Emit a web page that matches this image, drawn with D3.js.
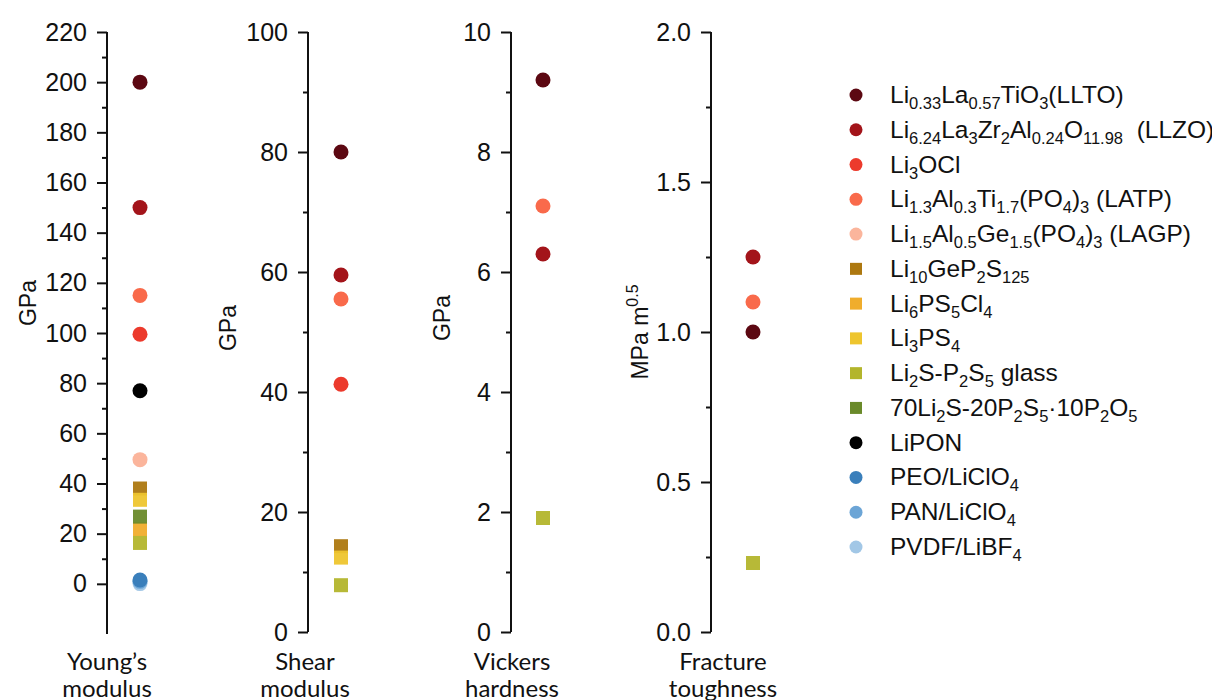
<!DOCTYPE html>
<html>
<head>
<meta charset="utf-8">
<script src="https://cdn.jsdelivr.net/npm/d3@7"></script>
<style>
  body { margin: 0; background: #fff; }
  svg { font-family: Arial, "Liberation Sans", sans-serif; }
  .axis path, .axis line { stroke: #111; stroke-width: 2; }
  .axis text { font-size: 25px; fill: #111; font-family: Arial, "Liberation Sans", sans-serif; }
  .ylab { font-size: 23px; fill: #111; }
  .xlab { font-size: 24px; fill: #111; font-family: Lato, "Open Sans", sans-serif; }
  .leg { font-size: 24.5px; fill: #111; white-space: pre; }
</style>
</head>
<body>
<div id="chart"></div>
<script>
// materials, in legend order (subscripts written as _{..})
let materials = [
    'Li_{0.33}La_{0.57}TiO_{3}(LLTO)',
    'Li_{6.24}La_{3}Zr_{2}Al_{0.24}O_{11.98}  (LLZO)',
    'Li_{3}OCl',
    'Li_{1.3}Al_{0.3}Ti_{1.7}(PO_{4})_{3} (LATP)',
    'Li_{1.5}Al_{0.5}Ge_{1.5}(PO_{4})_{3} (LAGP)',
    'Li_{10}GeP_{2}S_{125}',
    'Li_{6}PS_{5}Cl_{4}',
    'Li_{3}PS_{4}',
    'Li_{2}S-P_{2}S_{5} glass',
    '70Li_{2}S-20P_{2}S_{5}\u00B710P_{2}O_{5}',
    'LiPON',
    'PEO/LiClO_{4}',
    'PAN/LiClO_{4}',
    'PVDF/LiBF_{4}'
];
let shapes = ['circle','circle','circle','circle','circle','square','square','square','square','square','circle','circle','circle','circle'];
let colors = ['#5c0812','#a3141a','#ec3a2c','#f96a4b','#fbb59c','#ad7810','#f0ad2c','#eec52e','#b3b52c','#6a8a2a','#000000','#3a7fbb','#6ca5d6','#a2c7e6'];

// property values (null = not reported)
let youngs   = [200, 150, 99.5, 115, 49.5, 38, 21.8, 33.5, 16.3, 26.8, 77, 1.5, 1, 0.1];
let shear    = [80, 59.5, 41.3, 55.5, null, 14.3, null, 12.4, 7.8, null, null, null, null, null];
let vickers  = [9.2, 6.3, null, 7.1, null, null, null, null, 1.9, null, null, null, null, null];
let fracture = [1.0, 1.25, null, 1.1, null, null, null, null, 0.23, null, null, null, null, null];

let panels = [
    {values: youngs,   domain: [-20, 220], major: d3.range(0, 221, 20), minor: d3.range(10, 221, 20), fmt: d3.format('d'),
     axisX: 107, dotX: 140, yLabel: 'GPa', yLabX: 36, yLabY: 303, title: ['Young\u2019s', 'modulus'], titleX: 107},
    {values: shear,    domain: [0, 100], major: d3.range(0, 101, 20), minor: d3.range(10, 101, 20), fmt: d3.format('d'),
     axisX: 308, dotX: 341, yLabel: 'GPa', yLabX: 236, yLabY: 328, title: ['Shear', 'modulus'], titleX: 305},
    {values: vickers,  domain: [0, 10], major: d3.range(0, 11, 2), minor: d3.range(1, 11, 2), fmt: d3.format('d'),
     axisX: 511, dotX: 543, yLabel: 'GPa', yLabX: 450, yLabY: 318, title: ['Vickers', 'hardness'], titleX: 512},
    {values: fracture, domain: [0, 2], major: [0, 0.5, 1, 1.5, 2], minor: [0.25, 0.75, 1.25, 1.75], fmt: d3.format('.1f'),
     axisX: 711, dotX: 753, yLabel: 'MPa m^{0.5}', yLabX: 648, yLabY: 332, title: ['Fracture', 'toughness'], titleX: 723}
];

let plotTop = 32, plotBottom = 632;
let svg = d3.select('#chart').append('svg')
    .attr('width', 1212)
    .attr('height', 700);

// write text with _{..} subscripts and ^{..} superscripts as tspans
function richText(sel, str, subSize, shift) {
    let parts = str.split(/([_^]\{[^}]*\})/).filter(function(p) { return p.length; });
    let offset = 0;
    parts.forEach(function(p) {
        let m = p.match(/^([_^])\{([^}]*)\}$/);
        if (m) {
            let dy = m[1] === '_' ? shift : -shift * 1.4;
            sel.append('tspan').attr('dy', dy - offset).attr('font-size', subSize).text(m[2]);
            offset = dy;
        } else {
            sel.append('tspan').attr('dy', -offset).text(p);
            offset = 0;
        }
    });
}

panels.forEach(function(p) {
    let y = d3.scaleLinear().domain(p.domain).range([plotBottom, plotTop]);
    if (p.domain[0] < 0) y.range([plotBottom + 2, plotTop]);
    let g = svg.append('g').attr('transform', 'translate(' + p.axisX + ',0)');

    g.append('g') // minor ticks
        .attr('class', 'axis')
        .call(d3.axisLeft(y).tickValues(p.minor).tickSize(5).tickSizeOuter(0).tickFormat(''));
    g.append('g') // major ticks with labels
        .attr('class', 'axis')
        .call(d3.axisLeft(y).tickValues(p.major).tickSize(10).tickSizeOuter(0).tickPadding(10).tickFormat(p.fmt));
    g.selectAll('.axis .domain').attr('d', 'M0,' + y(p.domain[0]) + 'V' + y(p.domain[1]));

    let ylab = svg.append('text') // y axis label
        .attr('class', 'ylab')
        .attr('text-anchor', 'middle')
        .attr('transform', 'translate(' + p.yLabX + ',' + p.yLabY + ') rotate(-90)');
    richText(ylab, p.yLabel, 16, 7);

    p.title.forEach(function(t, i) { // category label under axis (second line runs off the page, as in the original)
        svg.append('text')
            .attr('class', 'xlab')
            .attr('text-anchor', 'middle')
            .attr('x', p.titleX)
            .attr('y', 670 + i * 27)
            .text(t);
    });

    let pts = p.values.map(function(v, i) { return {v: v, i: i}; })
        .filter(function(d) { return d.v !== null; });
    svg.append('g').selectAll('circle')
        .data(pts.filter(function(d) { return shapes[d.i] === 'circle'; }).reverse())
        .enter().append('circle')
        .attr('cx', p.dotX)
        .attr('cy', function(d) { return y(d.v); })
        .attr('r', 7.5)
        .attr('fill', function(d) { return colors[d.i]; });
    svg.append('g').selectAll('rect')
        .data(pts.filter(function(d) { return shapes[d.i] === 'square'; }))
        .enter().append('rect')
        .attr('x', p.dotX - 7)
        .attr('y', function(d) { return y(d.v) - 7; })
        .attr('width', 14)
        .attr('height', 14)
        .attr('fill', function(d) { return colors[d.i]; })
        .attr('fill-opacity', 0.95);
});

// legend
let legY = d3.scalePoint().domain(d3.range(materials.length)).range([95, 547]);
let leg = svg.append('g');
materials.forEach(function(name, i) {
    if (shapes[i] === 'circle') {
        leg.append('circle').attr('cx', 856).attr('cy', legY(i)).attr('r', 6.5).attr('fill', colors[i]);
    } else {
        leg.append('rect').attr('x', 850).attr('y', legY(i) - 6).attr('width', 12).attr('height', 12).attr('fill', colors[i]);
    }
    let t = leg.append('text')
        .attr('class', 'leg')
        .attr('x', 890)
        .attr('y', legY(i) + 8);
    richText(t, name, 16.5, 6);
});
</script>
</body>
</html>
